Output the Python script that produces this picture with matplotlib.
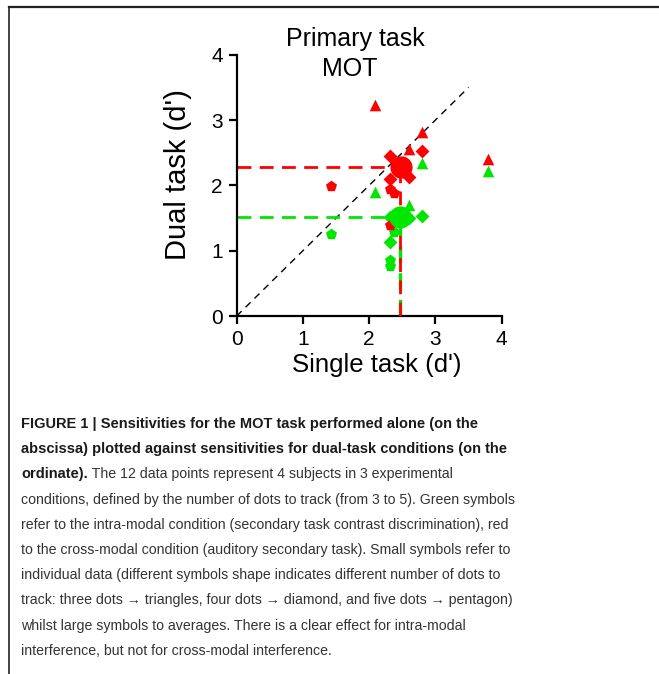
import matplotlib
matplotlib.use("Agg")
import matplotlib.pyplot as plt
from matplotlib.lines import Line2D

# single task d' (x) is the same for both conditions
tri_x = [2.08, 2.79, 2.60, 3.79]
dia_x = [2.31, 2.79, 2.31, 2.60]
pen_x = [1.42, 2.37, 2.31, 2.31]

# cross-modal (red) dual task d'
red_tri_y = [3.23, 2.81, 2.55, 2.40]
red_dia_y = [2.45, 2.53, 2.09, 2.13]
red_pen_y = [1.99, 1.89, 1.94, 1.39]

# intra-modal (green) dual task d'
green_tri_y = [1.90, 2.34, 1.70, 2.22]
green_dia_y = [1.52, 1.53, 1.14, 1.50]
green_pen_y = [1.26, 1.29, 0.86, 0.77]

red_mean = (2.48, 2.28)
green_mean = (2.47, 1.52)
err = 0.07

ticks = [0, 1, 2, 3, 4]

RED = "#ff0000"
GREEN = "#00e600"

W, H = 659, 674
fig = plt.figure(figsize=(W / 100, H / 100), dpi=100)
plt.rcParams['font.family'] = ['Liberation Sans', 'DejaVu Sans']

# axes placed so that 0..4 spans the same pixels as the reference
x0, x1 = 236.7, 501.7
y0, y1 = 316.0, 54.7
ax = fig.add_axes([x0 / W, 1 - y0 / H, (x1 - x0) / W, (y0 - y1) / H])
ax.set_xlim(0, 4)
ax.set_ylim(0, 4)
for s in ['top', 'right']:
    ax.spines[s].set_visible(False)
for s in ['left', 'bottom']:
    ax.spines[s].set_linewidth(1.6)
ax.tick_params(direction='out', length=6, width=1.6, labelsize=15, pad=4)
ax.set_xticks(ticks)
ax.set_yticks(ticks)
ax.set_xticklabels([str(t) for t in ticks])
ax.set_yticklabels([str(t) for t in ticks])
ax.set_xlabel("Single task (d')", fontsize=18.5, va='center')
ax.set_ylabel("Dual task (d')", fontsize=21, va='center')
ax.xaxis.set_label_coords(0.529, -0.1875)
ax.yaxis.set_label_coords(-0.221, 0.543)

# identity line
ax.plot([0, 3.5], [0, 3.5], ls=(0, (5, 4)), color='black', lw=1.0, zorder=1)

# mean guide lines
ax.plot([0, green_mean[0]], [green_mean[1]] * 2, color=GREEN, lw=2, ls=(0, (5, 3)), zorder=2)
ax.plot([green_mean[0]] * 2, [0, green_mean[1]], color=GREEN, lw=2.4, ls=(0, (5, 3)), zorder=2)
ax.plot([0, red_mean[0]], [red_mean[1]] * 2, color=RED, lw=2, ls=(0, (5, 3)), zorder=2)
ax.plot([red_mean[0] - 0.01] * 2, [0, red_mean[1]], color=RED, lw=2, ls=(0, (5, 3)), zorder=3)

for col, ys in [(GREEN, (green_tri_y, green_dia_y, green_pen_y)),
                (RED, (red_tri_y, red_dia_y, red_pen_y))]:
    ax.scatter(tri_x, ys[0], marker='^', s=70, color=col, lw=0, zorder=4)
    ax.scatter(dia_x, ys[1], marker='D', s=50, color=col, lw=0, zorder=4)
    ax.scatter(pen_x, ys[2], marker='p', s=70, color=col, lw=0, zorder=4)

for col, (mx, my) in [(GREEN, green_mean), (RED, red_mean)]:
    ax.errorbar(mx, my, xerr=err, yerr=err, fmt='o', ms=15, color=col,
                ecolor=col, elinewidth=0.8, capsize=3, zorder=5)

ax.text(1.79, 4.24, "Primary task", ha='center', va='center', fontsize=18)
ax.text(1.70, 3.78, "MOT", ha='center', va='center', fontsize=18)

# frame lines of the page
fig.add_artist(Line2D([9 / W, 1], [1 - 7 / H] * 2, color='#222222', lw=1.6))
fig.add_artist(Line2D([9 / W] * 2, [0, 1 - 7 / H], color='#222222', lw=1.2))

# caption
cap_font = ['Liberation Sans', 'DejaVu Sans']
cap_size = 10.2
lines = [
    ("FIGURE 1 | Sensitivities for the MOT task performed alone (on the", None),
    ("abscissa) plotted against sensitivities for dual-task conditions (on the", None),
    ("ordinate).", " The 12 data points represent 4 subjects in 3 experimental"),
    (None, "conditions, defined by the number of dots to track (from 3 to 5). Green symbols"),
    (None, "refer to the intra-modal condition (secondary task contrast discrimination), red"),
    (None, "to the cross-modal condition (auditory secondary task). Small symbols refer to"),
    (None, "individual data (different symbols shape indicates different number of dots to"),
    (None, "track: three dots \u2192 triangles, four dots \u2192 diamond, and five dots \u2192 pentagon)"),
    (None, "whilst large symbols to averages. There is a clear effect for intra-modal"),
    (None, "interference, but not for cross-modal interference."),
]
base = 428
fig.canvas.draw()
r = fig.canvas.get_renderer()
for i, (b, n) in enumerate(lines):
    y = 1 - (base + i * 25.2) / H
    x = 21 / W
    if b:
        t = fig.text(x, y, b, fontsize=cap_size + 0.3, fontweight='bold', family=cap_font,
                     color='#1a1a1a', va='baseline')
        bb = t.get_window_extent(renderer=r)
        x = bb.x1 / W
    if n:
        fig.text(x, y, n, fontsize=cap_size, family=cap_font, color='#333333', va='baseline')

fig.savefig("out.png", dpi=100)
